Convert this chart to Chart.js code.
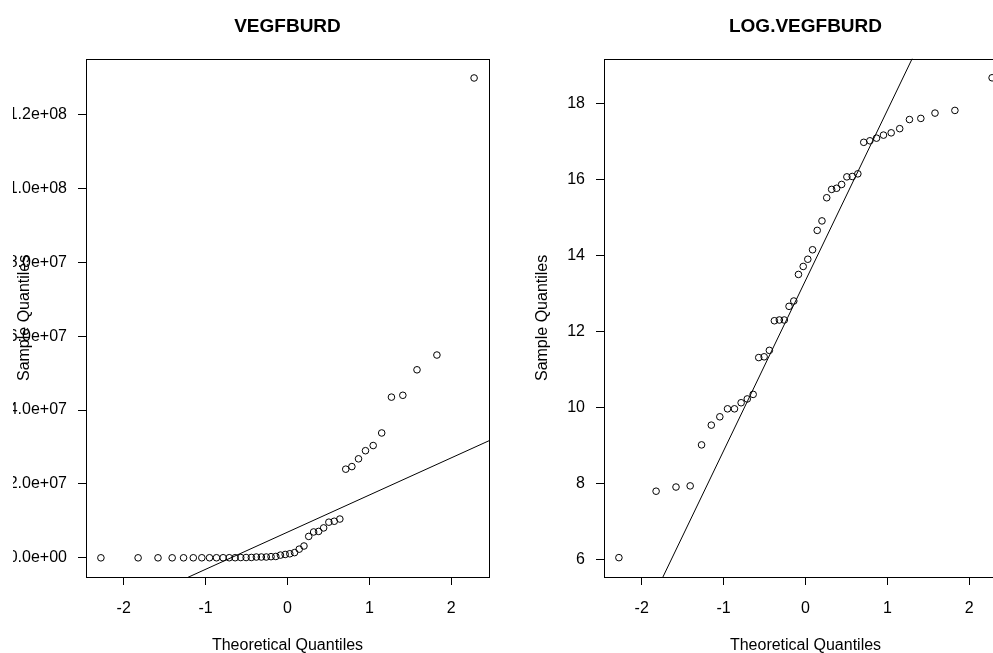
<!DOCTYPE html>
<html>
<head>
<meta charset="utf-8">
<title>QQ plots</title>
<script src="https://cdn.jsdelivr.net/npm/chart.js@4.4.1/dist/chart.umd.min.js"></script>
<style>
  html, body { margin: 0; padding: 0; background: #fff; overflow: hidden; }
  body { width: 993px; height: 653px; position: relative; }
  .panel { position: absolute; top: 0; height: 653px; overflow: hidden; }
  #left-panel { left: 13px; width: 484px; }
  #right-panel { left: 497px; width: 496px; }
  canvas { position: absolute; top: 0; }
  #vegfChart { left: -34px; }
  #logChart { left: 0; }
</style>
</head>
<body>
<div class="panel" id="left-panel"><canvas id="vegfChart" width="520" height="653"></canvas></div>
<div class="panel" id="right-panel"><canvas id="logChart" width="520" height="653"></canvas></div>
<script>
// theoretical normal quantiles (same 44 positions in both panels)
const theoQuantiles = [
  -2.278, -1.824, -1.581, -1.408, -1.269, -1.150, -1.046, -0.952, -0.867, -0.786, -0.711,
  -0.639, -0.571, -0.505, -0.441, -0.380, -0.319, -0.259, -0.201, -0.143, -0.086, -0.028,
  0.028, 0.086, 0.143, 0.201, 0.259, 0.319, 0.380, 0.441, 0.505, 0.571, 0.639,
  0.711, 0.786, 0.867, 0.952, 1.046, 1.150, 1.269, 1.408, 1.581, 1.824, 2.278
];

// sample quantiles, sorted
const vegfburd = [
  424, 2440, 2720, 2810, 8270, 13900, 17300, 21400, 21400, 25100, 27700,
  31300, 82500, 84200, 99800, 217600, 222000, 222000, 318000, 366000, 737000, 909000,
  1100000, 1410000, 2350000, 3200000, 5800000, 7000000, 7150000, 8100000, 9650000, 9900000, 10500000,
  24000000, 24700000, 26800000, 29000000, 30400000, 33800000, 43500000, 44000000, 50900000, 54900000, 129900000
];
const logVegfburd = [
  6.05, 7.80, 7.91, 7.94, 9.02, 9.54, 9.76, 9.97, 9.97, 10.13, 10.23,
  10.35, 11.32, 11.34, 11.51, 12.29, 12.31, 12.31, 12.67, 12.81, 13.51, 13.72,
  13.91, 14.16, 14.67, 14.92, 15.53, 15.75, 15.78, 15.88, 16.08, 16.09, 16.16,
  16.99, 17.03, 17.10, 17.18, 17.24, 17.35, 17.59, 17.62, 17.76, 17.83, 18.69
];

// qqline end points (clipped to the plot)
const lineX = [-3, 3];
const vegfLineY = [-23230000, 37130000];
const logLineY = [-0.11, 26.81];

const xTicks = [-2, -1, 0, 1, 2];
const xTickLabels = ['-2', '-1', '0', '1', '2'];
const vegfTicks = [0, 20000000, 40000000, 60000000, 80000000, 100000000, 120000000];
const vegfTickLabels = ['0.0e+00', '2.0e+07', '4.0e+07', '6.0e+07', '8.0e+07', '1.0e+08', '1.2e+08'];
const logTicks = [6, 8, 10, 12, 14, 16, 18];
const logTickLabels = ['6', '8', '10', '12', '14', '16', '18'];

const FONT = "'Liberation Sans', Arial, Helvetica, sans-serif";
Chart.defaults.font.family = FONT;
Chart.defaults.color = '#000';

const boxPlugin = {
  id: 'plotBox',
  afterDraw(chart) {
    const { ctx, chartArea: a } = chart;
    ctx.save();
    ctx.strokeStyle = '#000';
    ctx.lineWidth = 1;
    ctx.strokeRect(Math.round(a.left) + 0.5, Math.round(a.top) + 0.5,
      Math.round(a.right - a.left), Math.round(a.bottom - a.top));
    ctx.restore();
  }
};

function renderQQ(canvasId, title, sample, lineY, yTicks, yLabels, yMin, yMax) {
  const ctx = document.getElementById(canvasId).getContext('2d');
  new Chart(ctx, {
    type: 'scatter',
    data: {
      datasets: [{
        data: theoQuantiles.map((q, i) => ({ x: q, y: sample[i] })),
        pointStyle: 'circle',
        pointRadius: 3.3,
        pointBorderWidth: 1,
        pointBorderColor: '#000',
        pointBackgroundColor: 'rgba(0,0,0,0)'
      }, {
        data: lineX.map((x, i) => ({ x: x, y: lineY[i] })),
        showLine: true,
        borderColor: '#000',
        borderWidth: 1,
        pointRadius: 0
      }]
    },
    options: {
      responsive: false,
      animation: false,
      devicePixelRatio: 1,
      events: [],
      layout: { padding: { left: 0, right: 10, top: 0, bottom: 0 } },
      plugins: {
        legend: { display: false },
        tooltip: { enabled: false },
        title: {
          display: true,
          text: title,
          fullSize: false,
          font: { size: 19, weight: 'bold' },
          padding: { top: 15, bottom: 21 }
        }
      },
      scales: {
        x: {
          type: 'linear',
          min: -2.46,
          max: 2.46,
          afterBuildTicks: s => { s.ticks = xTicks.map(v => ({ value: v })); },
          afterFit: s => { s.height = 76; },
          border: { display: false },
          grid: { drawOnChartArea: false, drawTicks: true, tickLength: 8, color: '#000' },
          ticks: {
            autoSkip: false, maxRotation: 0, padding: 14,
            font: { size: 16 },
            callback: (v, i) => xTickLabels[i]
          },
          title: { display: true, text: 'Theoretical Quantiles', font: { size: 16 }, padding: { top: 0, bottom: -2 } }
        },
        y: {
          type: 'linear',
          min: yMin,
          max: yMax,
          afterBuildTicks: s => { s.ticks = yTicks.map(v => ({ value: v })); },
          afterFit: s => { s.width = 107; },
          border: { display: false },
          grid: { drawOnChartArea: false, drawTicks: true, tickLength: 8, color: '#000' },
          ticks: {
            autoSkip: false, padding: 11,
            font: { size: 16 },
            callback: (v, i) => yLabels[i]
          },
          title: { display: true, text: 'Sample Quantiles', font: { size: 16 }, padding: { top: 36, bottom: 0 } }
        }
      }
    },
    plugins: [boxPlugin]
  });
}

window.onload = function () {
  renderQQ('vegfChart', 'VEGFBURD', vegfburd, vegfLineY, vegfTicks, vegfTickLabels, -5190000, 135090000);
  renderQQ('logChart', 'LOG.VEGFBURD', logVegfburd, logLineY, logTicks, logTickLabels, 5.54, 19.19);
};
</script>
</body>
</html>
